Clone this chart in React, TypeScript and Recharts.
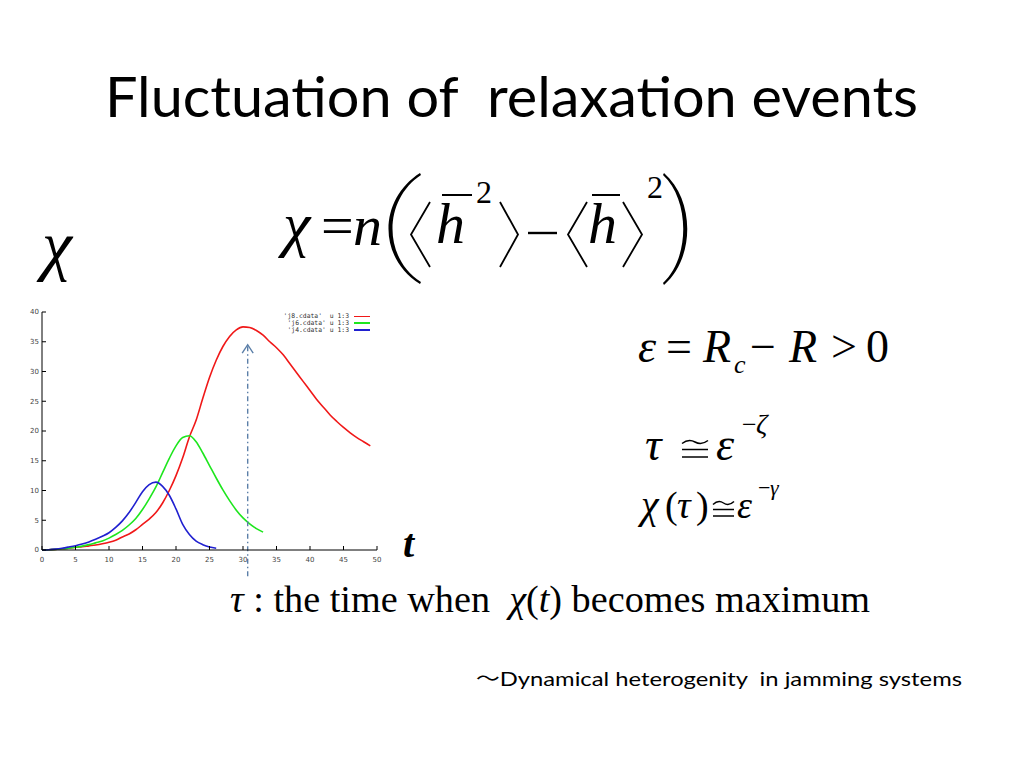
import React from 'react';
import { LineChart, Line, XAxis, YAxis, ReferenceLine, Legend } from 'recharts';

// ---------- data ----------
const J8_T = [0,1,2,3,4,5,6,7,8,9,10,11,12,13,14,15,16,17,18,19,20,21,22,23,24,25,26,27,28,29,30,31,32,33,34,35,36,37,38,39,40,41,42,43,44,45,46,47,48,49];
const J8_CHI = [0,0.05,0.1,0.2,0.3,0.45,0.55,0.7,0.85,1.05,1.3,1.65,2.2,2.7,3.4,4.3,5.2,6.3,7.9,10.0,12.5,15.5,19.0,21.8,25.5,29.0,31.9,34.2,35.9,37.0,37.5,37.4,36.9,36.1,35.0,34.0,32.8,31.3,29.8,28.3,26.8,25.3,24.0,22.7,21.6,20.6,19.7,18.9,18.2,17.5];

const J6_T = [0,1,2,3,4,5,6,7,8,9,10,11,12,13,14,15,16,17,18,19,20,21,22,23,24,25,26,27,28,29,30,31,32,33];
const J6_CHI = [0,0.05,0.1,0.2,0.3,0.45,0.65,0.9,1.2,1.5,2.0,2.6,3.3,4.2,5.3,6.8,8.6,10.6,13.0,15.4,17.5,18.9,19.2,18.2,16.3,14.2,12.1,10.1,8.3,6.7,5.4,4.4,3.6,3.0];

const J4_T = [0,1,2,3,4,5,6,7,8,9,10,11,12,13,14,15,16,17,18,19,20,21,22,23,24,25,26];
const J4_CHI = [0,0.05,0.15,0.3,0.5,0.72,1.0,1.35,1.8,2.3,2.9,3.8,4.9,6.3,8.0,9.8,11.0,11.4,10.7,9.2,6.9,4.3,2.6,1.5,0.9,0.5,0.3];

const X_TICKS = [0,5,10,15,20,25,30,35,40,45,50];
const Y_TICKS = [0,5,10,15,20,25,30,35,40];

const SERIES_NAMES = ["'j8.cdata'  u 1:3", "'j6.cdata' u 1:3", "'j4.cdata' u 1:3"];
const SERIES_COLORS = ['#f01818', '#1ee61e', '#2020d0'];

const TAU_X = 30.7;
const ARROW_FROM = -4.4;
const ARROW_TO = 34.5;

const toRows = (ts: number[], vs: number[]) => ts.map((t, i) => ({ t, chi: vs[i] }));
const j8Data = toRows(J8_T, J8_CHI);
const j6Data = toRows(J6_T, J6_CHI);
const j4Data = toRows(J4_T, J4_CHI);

const tickStyle = { fontSize: 7, fill: '#444', fontFamily: 'DejaVu Sans' };

const ArrowShape = (props: any) => {
  const { x1, y1, x2, y2 } = props;
  if ([x1, y1, x2, y2].some((v) => typeof v !== 'number' || isNaN(v))) return null;
  const top = Math.min(y1, y2);
  const bot = Math.max(y1, y2);
  return (
    <g>
      <line x1={x1} y1={bot} x2={x2} y2={top} stroke="#5b7fa8" strokeWidth={1.4} strokeDasharray="5 3 1.5 3" />
      <polyline points={`${x1 - 5.5},${top + 8.5} ${x1},${top} ${x1 + 5.5},${top + 8.5}`} fill="none" stroke="#5b7fa8" strokeWidth={1.4} />
    </g>
  );
};

const LegendContent = (props: any) => {
  const payload = [...(props.payload || [])].sort(
    (a: any, b: any) => SERIES_NAMES.indexOf(a.value) - SERIES_NAMES.indexOf(b.value)
  );
  return (
    <div style={{ display: 'flex', flexDirection: 'column', alignItems: 'flex-end' }}>
      {payload.map((p: any, i: number) => (
        <div key={i} style={{ display: 'flex', alignItems: 'center', height: 6.8 }}>
          <span style={{ fontFamily: 'DejaVu Sans Mono', fontSize: 6.4, color: '#333', whiteSpace: 'pre', lineHeight: '6.8px' }}>{p.value}</span>
          <span style={{ display: 'inline-block', width: 16, height: 1.6, background: p.color, marginLeft: 5 }} />
        </div>
      ))}
    </div>
  );
};

const serif = 'Liberation Serif';

// approximately-equal sign drawn as strokes (tilde over two bars)
const Cong = ({ x, y, w, s }: { x: number; y: number; w: number; s: number }) => (
  <g stroke="#000" strokeWidth={1.5} fill="none">
    <path d={`M ${x} ${y + 1.5} Q ${x + w / 4} ${y - 3.5} ${x + w / 2} ${y} Q ${x + (3 * w) / 4} ${y + 3.5} ${x + w} ${y - 1.5}`} />
    <line x1={x} y1={y + s} x2={x + w} y2={y + s} />
    <line x1={x} y1={y + 2 * s} x2={x + w} y2={y + 2 * s} />
  </g>
);

const Formulas = () => (
  <svg width={1024} height={768} style={{ position: 'absolute', left: 0, top: 0, pointerEvents: 'none' }}>
    {/* title */}
    <text x={105} y={117} fontFamily="Lato" fontSize={56} textLength={813} lengthAdjust="spacingAndGlyphs" style={{ whiteSpace: 'pre' }}>
      Fluctuation of  relaxation events
    </text>

    {/* big chi axis label */}
    <text x={42} y={268} fontFamily={serif} fontSize={68} fontStyle="italic">χ</text>
    {/* t axis label */}
    <text x={403} y={557} fontFamily={serif} fontSize={40} fontStyle="italic" fontWeight="bold">t</text>

    {/* chi = n( <h^2> - <h>^2 ) */}
    <g fontFamily={serif} fontSize={58}>
      <text x={283} y={245} fontStyle="italic" fontSize={62}>χ</text>
      <text x={321} y={245}>=</text>
      <text x={353} y={245} fontStyle="italic">n</text>
      <path d="M 420 173 C 378 200, 378 258, 420 284 L 421 282 C 383 258, 383 200, 421 175 Z" fill="#000" />
      <polyline points="430,202 411,234.5 430,267" fill="none" stroke="#000" strokeWidth={1.8} />
      <text x={436} y={243} fontStyle="italic">h</text>
      <line x1={442} y1={195} x2={472} y2={195} stroke="#000" strokeWidth={2} />
      <text x={476} y={203} fontSize={32}>2</text>
      <polyline points="500,202 518,234.5 500,267" fill="none" stroke="#000" strokeWidth={1.8} />
      <line x1={528} y1={233} x2={557} y2={233} stroke="#000" strokeWidth={2.4} />
      <polyline points="587,202 568,234.5 587,267" fill="none" stroke="#000" strokeWidth={1.8} />
      <text x={588} y={243} fontStyle="italic">h</text>
      <line x1={592} y1={195} x2={620} y2={195} stroke="#000" strokeWidth={2} />
      <polyline points="623,202 642,234.5 623,267" fill="none" stroke="#000" strokeWidth={1.8} />
      <text x={647} y={198} fontSize={32}>2</text>
      <path d="M 664 173 C 695 200, 695 258, 664 285 L 663 283 C 690 258, 690 200, 663 175 Z" fill="#000" />
    </g>

    {/* epsilon = R_c - R > 0 */}
    <g fontFamily={serif} fontSize={46}>
      <text x={638} y={362} fontStyle="italic">ε</text>
      <text x={666} y={362}>=</text>
      <text x={703} y={362} fontStyle="italic">R</text>
      <text x={734} y={373} fontSize={26} fontStyle="italic">c</text>
      <text x={750} y={362}>−</text>
      <text x={789} y={362} fontStyle="italic">R</text>
      <text x={831} y={362}>&gt;</text>
      <text x={866} y={362}>0</text>
    </g>

    {/* tau ~= eps^-zeta */}
    <g fontFamily={serif} fontSize={46}>
      <text x={645} y={460} fontStyle="italic">τ</text>
      <Cong x={682} y={442} w={26} s={7.5} />
      <text x={716} y={460} fontStyle="italic">ε</text>
      <text x={742} y={433} fontSize={26}>−</text>
      <text x={756} y={433} fontSize={28} fontStyle="italic">ζ</text>
    </g>

    {/* chi(tau) ~= eps^-gamma */}
    <g fontFamily={serif} fontSize={38}>
      <text x={641} y={518} fontStyle="italic" fontSize={40}>χ</text>
      <text x={665} y={518}>(</text>
      <text x={677} y={518} fontStyle="italic">τ</text>
      <text x={696} y={518}>)</text>
      <Cong x={713} y={503} w={21} s={6.5} />
      <text x={737} y={518} fontStyle="italic">ε</text>
      <text x={758} y={495} fontSize={22}>−</text>
      <text x={770} y={495} fontSize={22} fontStyle="italic">γ</text>
    </g>

    {/* explanation */}
    <text x={230} y={612} fontFamily={serif} fontSize={37} textLength={640} lengthAdjust="spacingAndGlyphs" style={{ whiteSpace: 'pre' }}>
      <tspan fontStyle="italic">τ</tspan>
      <tspan> : the time when  </tspan>
      <tspan fontStyle="italic">χ</tspan>
      <tspan>(</tspan>
      <tspan fontStyle="italic">t</tspan>
      <tspan>) becomes maximum</tspan>
    </text>

    {/* footnote */}
    <text x={476} y={686} fontFamily="Lato" fontSize={20} textLength={486} lengthAdjust="spacingAndGlyphs" style={{ whiteSpace: 'pre' }}>
      <tspan fontFamily="Noto Sans CJK JP">～</tspan>
      <tspan>Dynamical heterogenity  in jamming systems</tspan>
    </text>
  </svg>
);

export default function App() {
  return (
    <div style={{ position: 'absolute', left: 0, top: 0, width: 1024, height: 768, background: '#fff', overflow: 'hidden' }}>
      <div style={{ position: 'absolute', left: 0, top: 300 }}>
        <LineChart width={390} height={280} margin={{ top: 12, right: 13, left: 0, bottom: 10 }}>
          <XAxis
            dataKey="t"
            type="number"
            domain={[0, 50]}
            ticks={X_TICKS}
            allowDuplicatedCategory={false}
            height={20}
            tickSize={-4}
            tickMargin={11}
            tick={tickStyle}
            axisLine={{ stroke: '#000', strokeWidth: 1 }}
            tickLine={{ stroke: '#000' }}
          />
          <XAxis
            xAxisId="top"
            orientation="top"
            type="number"
            domain={[0, 50]}
            ticks={X_TICKS}
            height={0}
            tickSize={-4}
            tick={false}
            axisLine={{ stroke: '#000', strokeWidth: 1 }}
            tickLine={{ stroke: '#000' }}
          />
          <YAxis
            type="number"
            domain={[0, 40]}
            ticks={Y_TICKS}
            width={42}
            tickSize={-4}
            tickMargin={7}
            tick={tickStyle}
            axisLine={{ stroke: '#000', strokeWidth: 1 }}
            tickLine={{ stroke: '#000' }}
          />
          <YAxis
            yAxisId="right"
            orientation="right"
            type="number"
            domain={[0, 40]}
            ticks={Y_TICKS}
            width={0}
            tickSize={-4}
            tick={false}
            axisLine={{ stroke: '#000', strokeWidth: 1 }}
            tickLine={{ stroke: '#000' }}
          />
          <Legend
            layout="vertical"
            align="center"
            verticalAlign="middle"
            content={<LegendContent />}
            wrapperStyle={{ top: 13, right: 20, left: 'auto', width: 'auto', height: 'auto' }}
          />
          <Line data={j8Data} dataKey="chi" name={SERIES_NAMES[0]} stroke={SERIES_COLORS[0]} strokeWidth={1.6} dot={false} type="monotone" isAnimationActive={false} />
          <Line data={j6Data} dataKey="chi" name={SERIES_NAMES[1]} stroke={SERIES_COLORS[1]} strokeWidth={1.6} dot={false} type="monotone" isAnimationActive={false} />
          <Line data={j4Data} dataKey="chi" name={SERIES_NAMES[2]} stroke={SERIES_COLORS[2]} strokeWidth={1.6} dot={false} type="monotone" isAnimationActive={false} />
          <ReferenceLine
            segment={[{ x: TAU_X, y: ARROW_FROM }, { x: TAU_X, y: ARROW_TO }]}
            ifOverflow="visible"
            shape={ArrowShape}
          />
        </LineChart>
      </div>
      <Formulas />
    </div>
  );
}
